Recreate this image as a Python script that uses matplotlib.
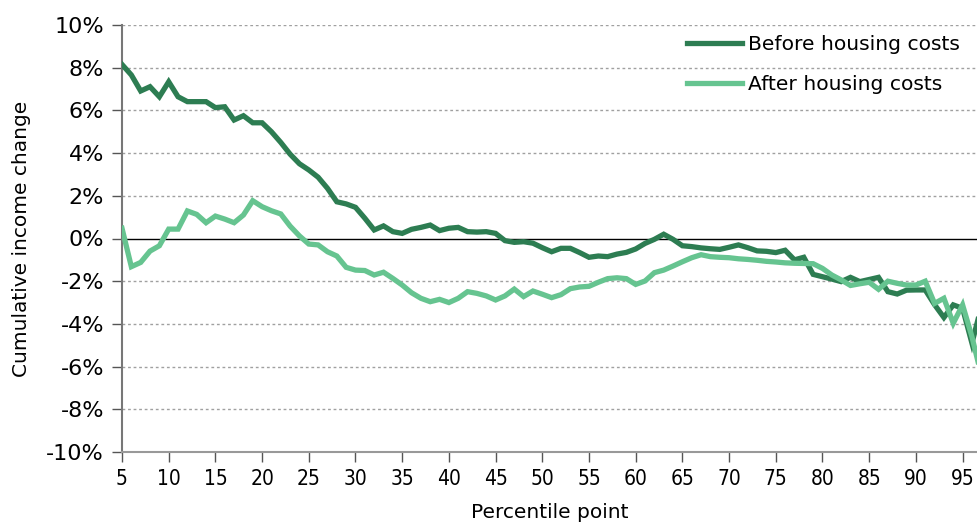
import numpy as np
import matplotlib
matplotlib.use("Agg")
import matplotlib.pyplot as plt
from matplotlib.ticker import FuncFormatter

# percentile points 5..97
percentile = list(range(5, 98))

# cumulative income change (%)
before_hc = [
    8.15, 7.66, 6.91, 7.11, 6.64, 7.34, 6.64, 6.41, 6.41, 6.41,   # 5-14
    6.13, 6.17, 5.55, 5.75, 5.42, 5.42, 5.00, 4.50, 3.95, 3.50,   # 15-24
    3.21, 2.87, 2.35, 1.72, 1.62, 1.46, 0.95, 0.40, 0.59, 0.32,   # 25-34
    0.24, 0.43, 0.52, 0.63, 0.37, 0.48, 0.52, 0.32, 0.30, 0.32,   # 35-44
    0.24, -0.10, -0.18, -0.15, -0.22, -0.43, -0.62, -0.46, -0.46, -0.66,  # 45-54
    -0.88, -0.82, -0.85, -0.73, -0.65, -0.49, -0.23, -0.04, 0.20, -0.04,  # 55-64
    -0.34, -0.38, -0.44, -0.48, -0.51, -0.41, -0.30, -0.43, -0.58, -0.60,  # 65-74
    -0.66, -0.55, -1.00, -0.88, -1.68, -1.79, -1.90, -2.02, -1.82, -2.02,  # 75-84
    -1.92, -1.82, -2.49, -2.60, -2.42, -2.41, -2.41, -3.10, -3.70, -3.11,  # 85-94
    -3.27, -4.90, -3.20,                                                   # 95-97
]
after_hc = [
    0.48, -1.32, -1.12, -0.59, -0.34, 0.44, 0.44, 1.29, 1.13, 0.74,       # 5-14
    1.05, 0.91, 0.74, 1.10, 1.77, 1.49, 1.30, 1.15, 0.58, 0.12,           # 15-24
    -0.26, -0.30, -0.62, -0.82, -1.35, -1.48, -1.50, -1.71, -1.58, -1.87, # 25-34
    -2.18, -2.54, -2.80, -2.96, -2.85, -3.00, -2.80, -2.49, -2.57, -2.69, # 35-44
    -2.88, -2.69, -2.37, -2.72, -2.46, -2.61, -2.77, -2.63, -2.35, -2.27, # 45-54
    -2.24, -2.05, -1.88, -1.84, -1.88, -2.15, -1.99, -1.60, -1.48, -1.29, # 55-64
    -1.09, -0.90, -0.76, -0.85, -0.88, -0.90, -0.95, -0.98, -1.02, -1.07, # 65-74
    -1.10, -1.14, -1.16, -1.17, -1.18, -1.40, -1.71, -1.94, -2.20, -2.12, # 75-84
    -2.05, -2.38, -2.00, -2.10, -2.18, -2.18, -2.00, -3.04, -2.80, -3.97, # 85-94
    -3.11, -4.60, -6.40,                                                  # 95-97
]

dark_green = "#2d7d52"
light_green = "#66c490"

fig = plt.figure(figsize=(9.78, 5.23), dpi=100)
ax = fig.add_axes([122 / 978, 71 / 523, 856 / 978, 427 / 523])

# grid lines
for y in range(-10, 11, 2):
    if y == 0:
        ax.axhline(0, color="black", linewidth=1.0, zorder=1)
    elif y == -10:
        continue
    else:
        ax.axhline(y, color="#a0a0a0", linewidth=1.0, linestyle=(0, (2, 2)), zorder=1)

ax.plot(percentile, before_hc, color=dark_green, linewidth=3.8,
        label="Before housing costs", zorder=3, solid_joinstyle="miter")
ax.plot(percentile, after_hc, color=light_green, linewidth=3.8,
        label="After housing costs", zorder=3, solid_joinstyle="miter")

ax.set_xlim(5, 96.65)
ax.set_ylim(-10, 10)
ax.set_xticks(range(5, 96, 5))
ax.set_yticks(range(-10, 11, 2))
ax.yaxis.set_major_formatter(FuncFormatter(lambda v, p: f"{int(v)}%"))

for s in ["top", "right"]:
    ax.spines[s].set_visible(False)
ax.spines["left"].set_color("#777777")
ax.spines["left"].set_linewidth(1.5)
ax.spines["bottom"].set_color("#999999")
ax.spines["bottom"].set_linewidth(1.5)

ax.tick_params(axis="y", direction="out", length=7, width=1, color="#555555",
               labelsize=16, pad=6)
ax.tick_params(axis="x", direction="out", length=7, width=1, color="#555555",
               labelsize=15, pad=5)
for lab in ax.get_xticklabels():
    lab.set_fontstretch("condensed")

ax.set_ylabel("Cumulative income change", fontsize=14.5, labelpad=11)
ax.set_xlabel("Percentile point", fontsize=14.5, labelpad=10)

leg = ax.legend(loc="upper right", frameon=False, fontsize=14.6, handlelength=2.7,
                handletextpad=0.3, labelspacing=1.05,
                bbox_to_anchor=(1.0, 1.02))

fig.savefig("out.png", dpi=100)
